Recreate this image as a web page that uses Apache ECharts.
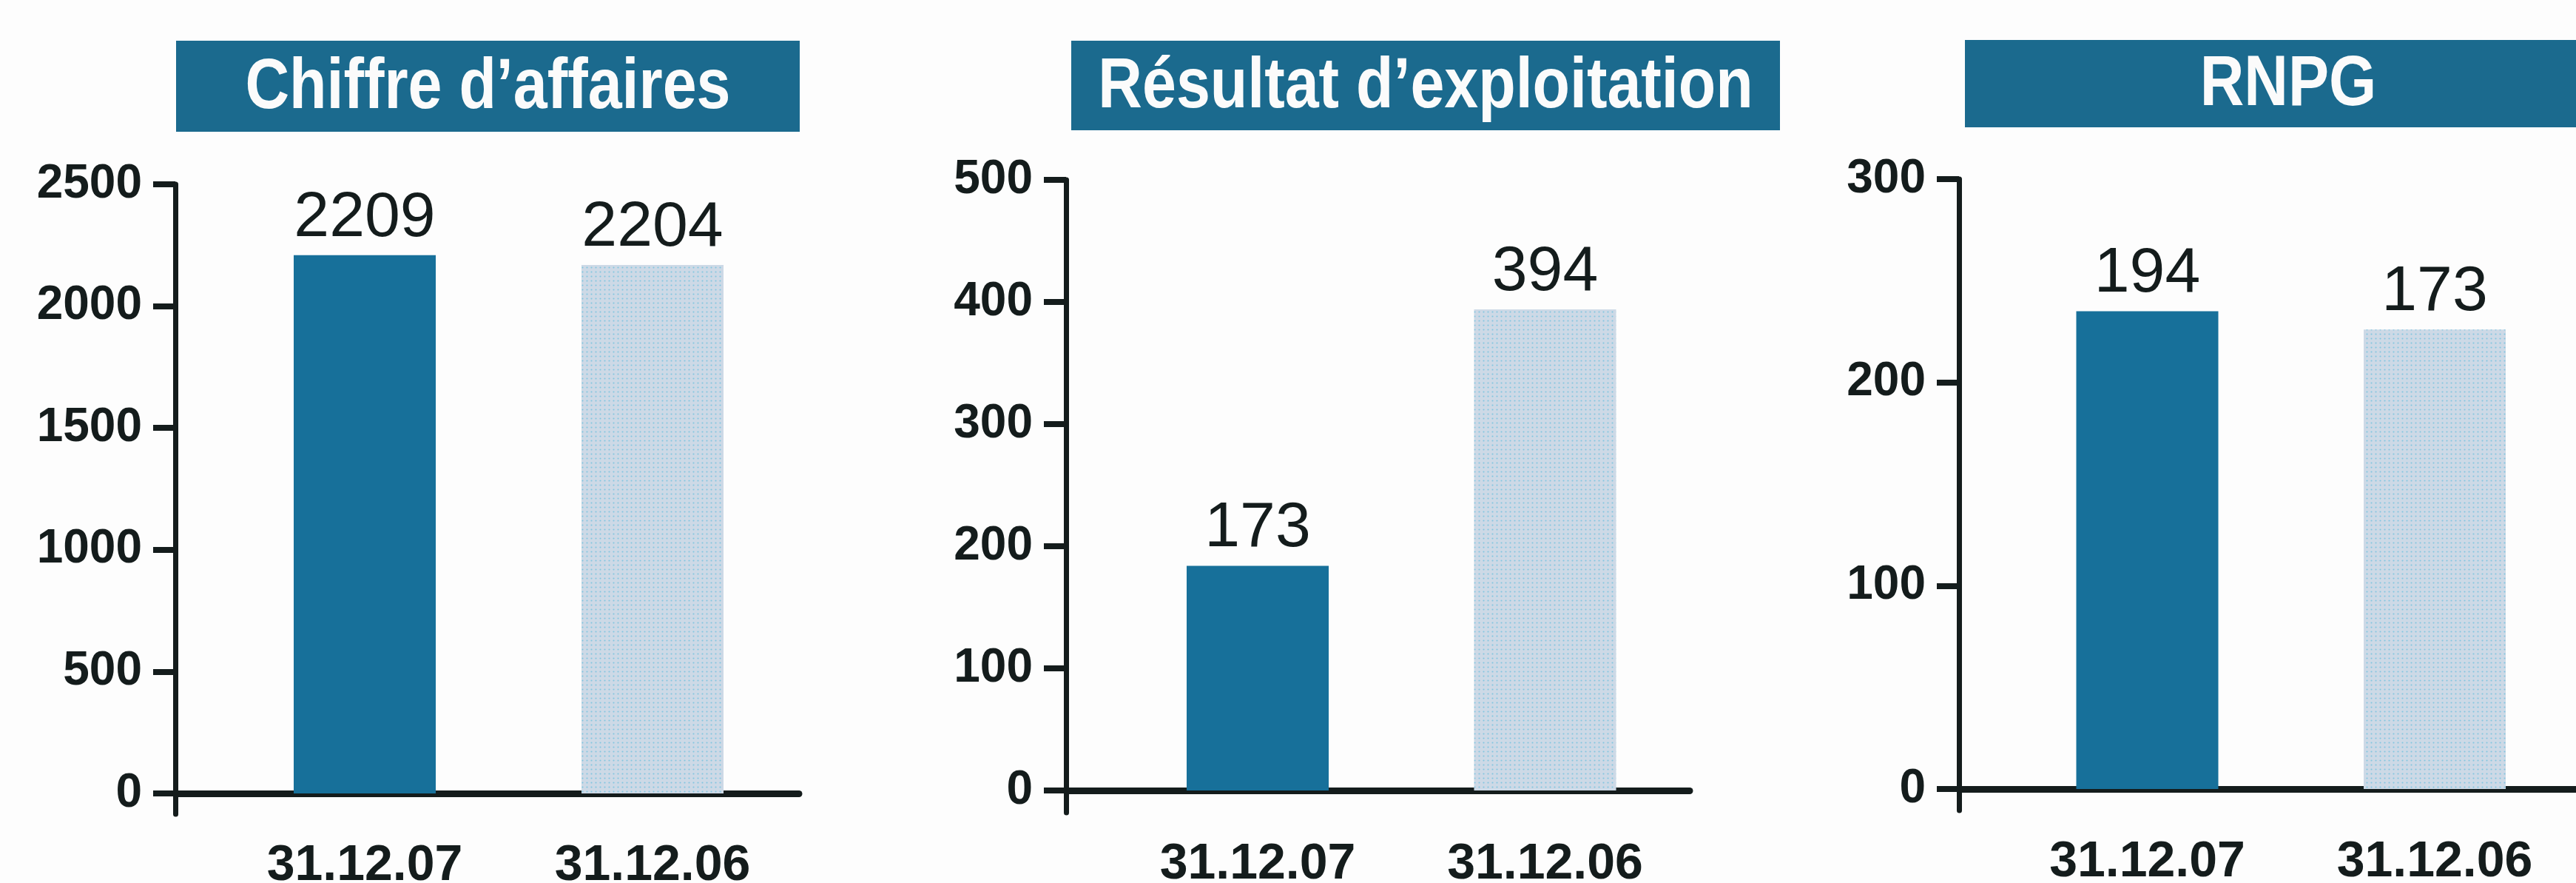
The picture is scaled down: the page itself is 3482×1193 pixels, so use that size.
<!DOCTYPE html>
<html>
<head>
<meta charset="utf-8">
<script src="https://cdn.jsdelivr.net/npm/echarts@6/dist/echarts.min.js"></script>
<style>
  html, body { margin: 0; padding: 0; background: #fdfdfd; }
  #chart { width: 3482px; height: 1193px; }
</style>
</head>
<body>
<div id="chart"></div>
<script>
// 数据
const panelTitles = ['Chiffre d\u2019affaires', 'Résultat d\u2019exploitation', 'RNPG'];
const dates = ['31.12.07', '31.12.06'];

// bar heights as drawn in the picture
const caValues = [2209, 2169];
const reValues = [184, 394];
const rnpgValues = [235, 226];

// figures printed above the bars
const caLabels = ['2209', '2204'];
const reLabels = ['173', '394'];
const rnpgLabels = ['194', '173'];

// y axis ticks
const caTicks = [0, 500, 1000, 1500, 2000, 2500];
const reTicks = [0, 100, 200, 300, 400, 500];
const rnpgTicks = [0, 100, 200, 300];

const FONT = '"Liberation Sans", Arial, sans-serif';
const INK = '#141c1c';
const DARK = '#17709a';
const LIGHT = '#cdd9e6';
const BOX = '#1b6a8e';

const panels = [
  { title: panelTitles[0], values: caValues, labels: caLabels, ticks: caTicks, max: 2500 },
  { title: panelTitles[1], values: reValues, labels: reLabels, ticks: reTicks, max: 500 },
  { title: panelTitles[2], values: rnpgValues, labels: rnpgLabels, ticks: rnpgTicks, max: 300 }
];

// 版面位置 (px)
const frames = [
  { axisX: 237, top: 249, zeroY: 1072, bottomY: 1100, plotL: 298.5, plotW: 778, box: [238, 55, 843, 123] },
  { axisX: 1441, top: 243, zeroY: 1068, bottomY: 1098, plotL: 1505.75, plotW: 777, box: [1448, 55, 958, 121] },
  { axisX: 2648, top: 242, zeroY: 1066, bottomY: 1095, plotL: 2708.25, plotW: 777, box: [2656, 54, 874, 118] }
];

const grid = [];
const xAxis = [];
const yAxis = [];
const series = [];
const graphic = [];

panels.forEach((p, i) => {
  const f = frames[i];
  const h = f.bottomY - f.top;
  // y axis runs a little below zero
  const min = -(f.bottomY - f.zeroY) * p.max / (f.zeroY - f.top);

  // frame grid: axes only
  grid.push({ left: f.axisX, top: f.top, width: 843, height: h, containLabel: false, outerBoundsMode: 'none' });
  xAxis.push({
    gridIndex: 2 * i,
    type: 'value',
    min: 0,
    max: 1,
    axisLine: { show: true, onZero: true, lineStyle: { color: INK, width: 9 } },
    axisTick: { show: false },
    axisLabel: { show: false },
    splitLine: { show: false }
  });
  yAxis.push({
    gridIndex: 2 * i,
    type: 'value',
    min: min,
    max: p.max,
    axisLine: { show: true, onZero: false, lineStyle: { color: INK, width: 7 } },
    axisTick: { show: true, length: 30, lineStyle: { color: INK, width: 8 }, customValues: p.ticks },
    axisLabel: {
      customValues: p.ticks,
      formatter: (v) => String(v),
      margin: 45,
      color: INK,
      fontFamily: FONT,
      fontWeight: 'bold',
      fontSize: 64
    },
    splitLine: { show: false }
  });

  // plot grid: bars and dates
  grid.push({ left: f.plotL, top: f.top, width: f.plotW, height: h, containLabel: false, outerBoundsMode: 'none' });
  xAxis.push({
    gridIndex: 2 * i + 1,
    type: 'category',
    data: dates,
    axisLine: { show: false, onZero: false },
    axisTick: { show: false },
    axisLabel: {
      interval: 0,
      margin: 36,
      color: INK,
      fontFamily: FONT,
      fontWeight: 'bold',
      fontSize: 68
    }
  });
  yAxis.push({ gridIndex: 2 * i + 1, type: 'value', min: min, max: p.max, show: false });

  series.push({
    type: 'bar',
    xAxisIndex: 2 * i + 1,
    yAxisIndex: 2 * i + 1,
    barWidth: 192,
    data: p.values.map((v, j) => ({
      value: v,
      itemStyle: j === 0
        ? { color: DARK }
        : {
            color: LIGHT,
            decal: {
              symbol: 'circle',
              symbolSize: 0.7,
              dashArrayX: [3, 3],
              dashArrayY: [3, 3],
              color: 'rgba(80, 185, 220, 0.6)'
            }
          }
    })),
    label: {
      show: true,
      position: 'top',
      distance: 7,
      formatter: (params) => p.labels[params.dataIndex],
      color: INK,
      fontFamily: FONT,
      fontSize: 86
    }
  });

  // title box
  const b = f.box;
  graphic.push({
    type: 'rect',
    shape: { x: b[0], y: b[1], width: b[2], height: b[3] },
    style: { fill: BOX }
  });
  graphic.push({
    type: 'text',
    x: b[0] + b[2] / 2,
    y: b[1] + b[3] / 2 + 3,
    scaleX: 0.86,
    style: {
      text: p.title,
      fill: '#fbfbfb',
      font: 'bold 96px ' + FONT,
      align: 'center',
      verticalAlign: 'middle'
    }
  });
});

const chart = echarts.init(document.getElementById('chart'));
chart.setOption({
  backgroundColor: '#fdfdfd',
  animation: false,
  grid: grid,
  xAxis: xAxis,
  yAxis: yAxis,
  series: series,
  graphic: graphic
});
</script>
</body>
</html>
